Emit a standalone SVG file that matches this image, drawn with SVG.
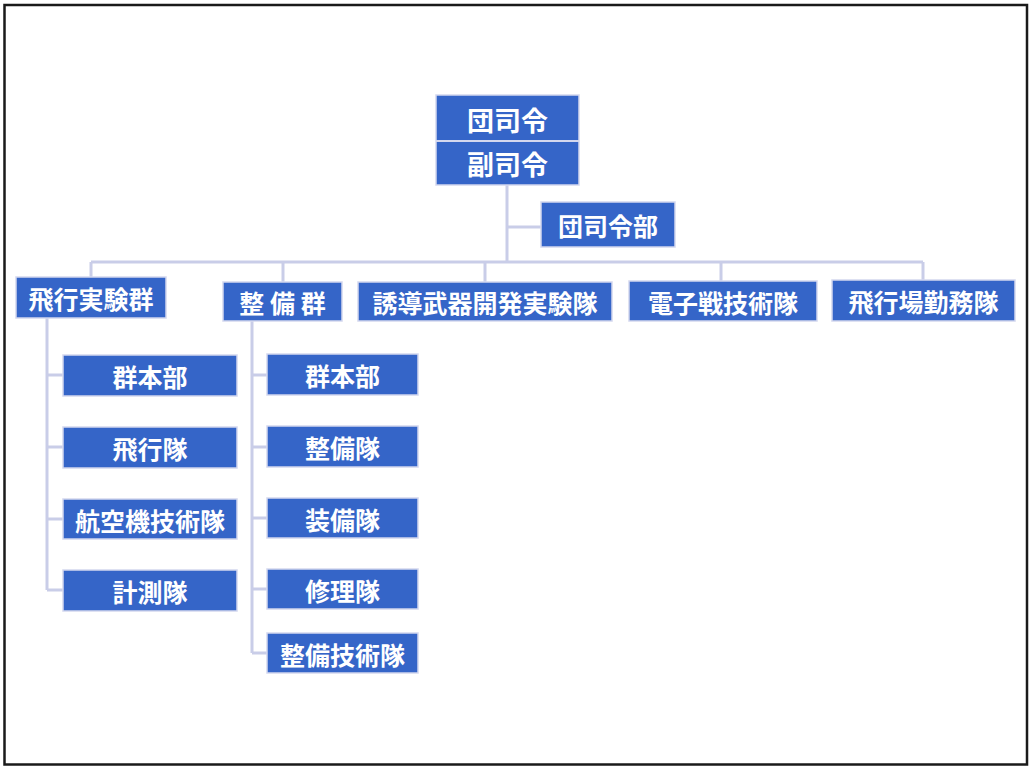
<svg xmlns="http://www.w3.org/2000/svg" width="1034" height="772" viewBox="0 0 1034 772">
<style>
.box{fill:#3565c8;stroke:#d3d7ee;stroke-width:1.5}
.t{font-family:"Noto Sans CJK JP","Noto Sans CJK SC",sans-serif;font-weight:bold;fill:#ffffff;font-size:25px;text-anchor:middle;dominant-baseline:central}
.big{font-size:27px}
.ln{stroke:#c9cde8;stroke-width:3;fill:none}
</style>
<rect x="0" y="0" width="1034" height="772" fill="#ffffff"/>
<rect x="4.5" y="5" width="1022.5" height="759.5" fill="none" stroke="#1a1a1a" stroke-width="2.5"/>
<g id="connectors">
<path class="ln" d="M507,185 V262 M507,227 H541 M91,262 H923 M91,262 V278 M283,262 V282 M485,262 V282 M721,262 V281 M923,262 V280"/>
<path class="ln" d="M47,318 V590 M47,375 H63 M47,447 H63 M47,519 H63 M47,590 H63"/>
<path class="ln" d="M252,321 V653 M252,375 H267 M252,447 H267 M252,518 H267 M252,589 H267 M252,653 H267"/>
</g>
<g id="n-top">
<rect class="box" x="436" y="95" width="143" height="90"/>
<line x1="436" y1="141" x2="579" y2="141" stroke="#d3d7ee" stroke-width="2"/>
<text class="t big" x="507.5" y="119">団司令</text>
<text class="t big" x="507.5" y="163">副司令</text>
</g>
<g id="n-hq"><rect class="box" x="541" y="202" width="134" height="45"/><text class="t" x="608" y="225">団司令部</text></g>
<g id="n-hikou"><rect class="box" x="16" y="277" width="150" height="41"/><text class="t" x="91" y="298">飛行実験群</text></g>
<g id="n-seibi"><rect class="box" x="223" y="282" width="119" height="39"/><text class="t" x="282.5" y="302">整 備 群</text></g>
<g id="n-yudo"><rect class="box" x="358" y="282" width="254" height="39"/><text class="t" x="485" y="302">誘導武器開発実験隊</text></g>
<g id="n-denshi"><rect class="box" x="629" y="281" width="188" height="40"/><text class="t" x="723" y="302">電子戦技術隊</text></g>
<g id="n-hikojo"><rect class="box" x="832" y="280" width="183" height="41"/><text class="t" x="923.5" y="301">飛行場勤務隊</text></g>
<g id="n-l1"><rect class="box" x="63" y="355" width="174" height="41"/><text class="t" x="150" y="376">群本部</text></g>
<g id="n-l2"><rect class="box" x="63" y="427" width="174" height="41"/><text class="t" x="150" y="448">飛行隊</text></g>
<g id="n-l3"><rect class="box" x="63" y="499" width="174" height="40"/><text class="t" x="150" y="520">航空機技術隊</text></g>
<g id="n-l4"><rect class="box" x="63" y="570" width="174" height="41"/><text class="t" x="150" y="591">計測隊</text></g>
<g id="n-r1"><rect class="box" x="267" y="354" width="151" height="41"/><text class="t" x="342.5" y="375">群本部</text></g>
<g id="n-r2"><rect class="box" x="267" y="426" width="151" height="41"/><text class="t" x="342.5" y="447">整備隊</text></g>
<g id="n-r3"><rect class="box" x="267" y="498" width="151" height="40"/><text class="t" x="342.5" y="519">装備隊</text></g>
<g id="n-r4"><rect class="box" x="267" y="569" width="151" height="40"/><text class="t" x="342.5" y="590">修理隊</text></g>
<g id="n-r5"><rect class="box" x="267" y="633" width="151" height="40"/><text class="t" x="342.5" y="654">整備技術隊</text></g>
</svg>
